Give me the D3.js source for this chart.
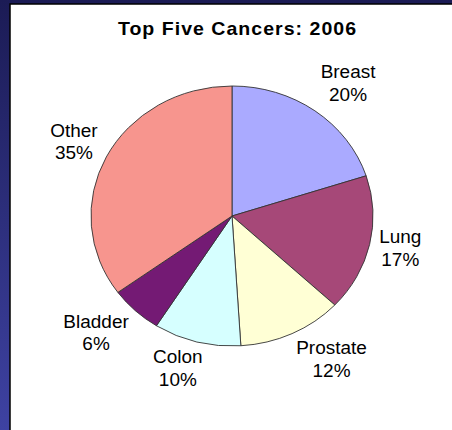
<!DOCTYPE html>
<html><head><meta charset="utf-8">
<script src="https://cdn.jsdelivr.net/npm/d3@7"></script>
<style>html,body{margin:0;padding:0;background:#1e1e5a;}svg{display:block;}</style>
</head><body>
<svg id="c" width="452" height="430"></svg>
<script>
const categories = ["Breast", "Lung", "Prostate", "Colon", "Bladder", "Other"];
const values = [20, 17, 12, 10, 6, 35];
const colors = ["#aaaaff", "#a64878", "#ffffd5", "#d6ffff", "#741a74", "#f7958e"];
const title = "Top Five Cancers: 2006";

const svg = d3.select("#c");
const W = 452, H = 430;
const defs = svg.append("defs");
const grad = defs.append("linearGradient").attr("id","bg").attr("x1",0).attr("y1",0).attr("x2",0).attr("y2",1);
grad.append("stop").attr("offset","0%").attr("stop-color","#1b1b55");
grad.append("stop").attr("offset","100%").attr("stop-color","#3e42a2");
svg.append("rect").attr("width",W).attr("height",H).attr("fill","url(#bg)");
// white panel
svg.append("rect").attr("x",10).attr("y",4).attr("width",W).attr("height",H).attr("fill","#fff")
  .attr("stroke","#000").attr("stroke-width",1.5);

const sx = 1.085;
const font = "'Liberation Sans', Arial, sans-serif";
svg.append("g").attr("transform",`translate(237.5,35) scale(${sx},1)`)
  .append("text").attr("text-anchor","middle").attr("font-family",font)
  .attr("font-weight","bold").attr("font-size",18).attr("letter-spacing","0.95px")
  .attr("fill","#000").text(title);

const R = 130;
const g = svg.append("g").attr("transform",`translate(232,216) scale(${sx},1)`);
const pie = d3.pie().sort(null).value(d => d.v)(categories.map((c,i)=>({c, v: values[i], col: colors[i]})));
const arc = d3.arc().innerRadius(0).outerRadius(R);
g.selectAll("path.s").data(pie).join("path").attr("class","s")
  .attr("d", arc).attr("fill", d => d.data.col)
  .attr("stroke","#333").attr("stroke-width",0.9).attr("vector-effect","non-scaling-stroke");

const fs = 17.5, lh = 22.7, capTop = 12.5, capBot = 3, D = R + 9;
const total = d3.sum(values);
const clamp = v => Math.max(0, Math.min(1, v));
pie.forEach(d => {
  const a = (d.startAngle + d.endAngle)/2;
  const s = Math.sin(a), c = -Math.cos(a);
  const t = g.append("text").attr("text-anchor","middle").attr("font-family",font)
    .attr("font-size",fs).attr("fill","#000");
  const t1 = t.append("tspan").attr("x",0).text(d.data.c);
  const t2 = t.append("tspan").attr("x",0).text(Math.round(d.data.v/total*100) + "%");
  const w = Math.max(t1.node().getComputedTextLength(), t2.node().getComputedTextLength());
  const h = capTop + lh + capBot;
  const fx = clamp(Math.abs(s)*2.7), fy = clamp(Math.abs(c)*1.35 - 0.1);
  const cx = s*D + Math.sign(s)*fx*w/2;
  const cy = c*D + Math.sign(c)*fy*h/2;
  const y1 = cy - h/2 + capTop;
  t1.attr("x", cx).attr("y", y1);
  t2.attr("x", cx).attr("y", y1 + lh);
});
</script>
</body></html>
